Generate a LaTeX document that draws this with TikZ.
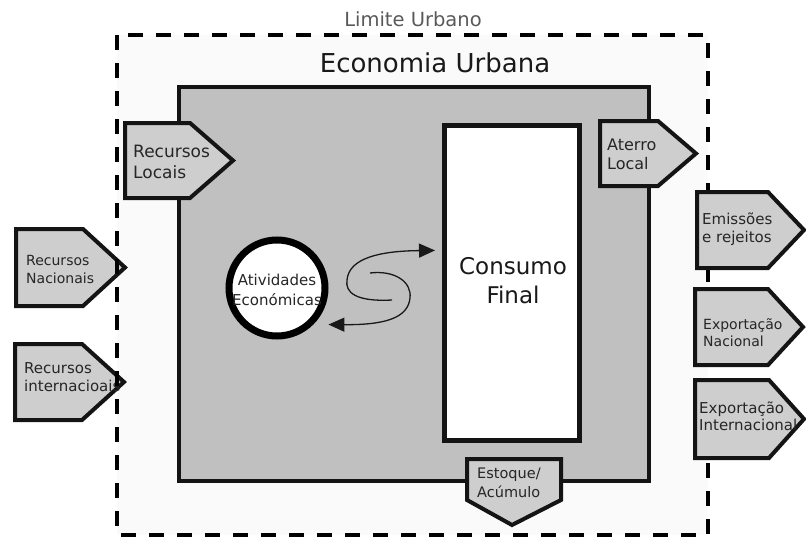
\documentclass[tikz,border=0pt]{standalone}
\usepackage{fontspec}
\setmainfont{DejaVu Sans}
\usetikzlibrary{positioning}
\usetikzlibrary{arrows.meta}

\definecolor{cinzacaixa}{HTML}{C0C0C0}
\definecolor{cinzaseta}{HTML}{CECECE}
\definecolor{fundo}{HTML}{FAFAFA}
\definecolor{texto}{HTML}{262626}

\begin{document}
\begin{tikzpicture}[x=1pt,y=-1pt,
  limite/.style={draw=black,line width=4pt,dash pattern=on 15pt off 13pt},
  economia/.style={draw=black!92,line width=4pt,fill=cinzacaixa,inner sep=0pt},
  consumo/.style={draw=black!92,line width=5pt,fill=white,inner sep=0pt},
  atividade/.style={circle,draw=black,line width=7pt,fill=white,inner sep=0pt},
  pent/.style={draw=black!92,line width=4pt,fill=cinzaseta,line join=miter},
  rotulo/.style={anchor=west,align=left,text=texto,inner sep=0pt},
  fluxo/.style={draw=black!90,line width=1.3pt,-{Triangle[length=16pt,width=14pt]}}]
 \useasboundingbox (0,0) rectangle (806,538);
 \fill[fundo](117,35) rectangle (708,535);

 % entradas de fora
 \draw[pent](16,229)--(83,229)--(125,267.5)--(83,306)--(16,306)--cycle;
 \node[rotulo,font=\fontsize{14}{18}\selectfont] (rnac) at (26,269) {Recursos\\Nacionais};
 \draw[pent](15,344)--(82,344)--(124,382)--(82,420)--(15,420)--cycle;
 \node[rotulo,font=\fontsize{15}{18}\selectfont] (rint) at (24,377) {Recursos\\internacioais};

 \draw[limite](117,35) rectangle (708,535);
 \node[text=black!65,font=\fontsize{19.5}{22}\selectfont,anchor=base] (limite) at (413,27) {Limite Urbano};

 % economia urbana
 \node[economia,minimum width=470pt,minimum height=394pt] (econ) at (414,284) {};
 \node[text=black!90,font=\fontsize{26}{30}\selectfont,anchor=base] (titulo) at (435,72) {Economia Urbana};
 \node[consumo,minimum width=135pt,minimum height=315pt] (cons) at (512,283) {};
 \node[text=black!90,align=center,font=\fontsize{23}{29}\selectfont] (txtcons) at (513,281) {Consumo\\Final};
 \node[atividade,minimum size=96pt] (ativ) at (277,288) {};
 \node[text=texto,align=center,font=\fontsize{15}{20}\selectfont] (txtativ) at (277,290) {Atividades\\Económicas};

 \draw[pent](125,123)--(190,123)--(233,160.5)--(190,198)--(125,198)--cycle;
 \node[rotulo,font=\fontsize{17}{21}\selectfont] (rloc) at (133,162) {Recursos\\Locais};
 \draw[pent](600,121)--(658,121)--(696,153.5)--(658,186)--(600,186)--cycle;
 \node[rotulo,font=\fontsize{16}{19}\selectfont] (aterro) at (607,154) {Aterro\\Local};
 \draw[pent](467,459)--(561,459)--(561,500)--(512,525)--(467,500)--cycle;
 \node[rotulo,font=\fontsize{14.5}{19}\selectfont] (estoque) at (477,483) {Estoque/\\Acúmulo};

 % saidas
 \draw[pent](697,192)--(768,192)--(804,230)--(768,268)--(697,268)--cycle;
 \node[rotulo,font=\fontsize{15}{18}\selectfont] (emis) at (702,229) {Emissões\\e rejeitos};
 \draw[pent](695,289)--(768,289)--(803,327)--(768,365)--(695,365)--cycle;
 \node[rotulo,font=\fontsize{14}{17}\selectfont] (expnac) at (703,333) {Exportação\\Nacional};
 \draw[pent](695,380)--(769,380)--(804,419)--(769,458)--(695,458)--cycle;
 \node[rotulo,font=\fontsize{15}{17}\selectfont] (expint) at (699,416) {Exportação\\Internacional};

 % ciclo
 \coordinate (ini1) at (392,300);
 \coordinate (ini2) at (370,273);
 \draw[fluxo,shorten >=7pt](ini1) .. controls (355,302) and (345,292) .. (347,280)
   .. controls (349,258) and (380,251) .. (cons.155);
 \draw[fluxo,shorten >=15pt](ini2) .. controls (395,270) and (412,282) .. (410,298)
   .. controls (408,318) and (385,325) .. (ativ.-45);
\end{tikzpicture}
\end{document}
